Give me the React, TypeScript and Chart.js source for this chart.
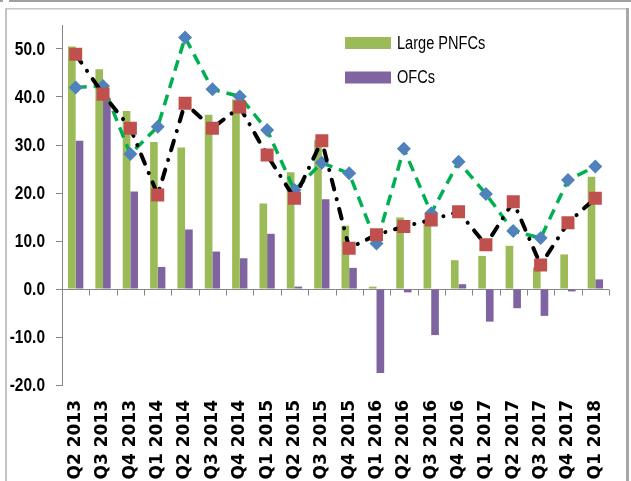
import React, { useEffect, useRef } from 'react';
import { Chart, registerables } from 'chart.js';

Chart.register(...registerables);

const categories = [
  'Q2 2013', 'Q3 2013', 'Q4 2013', 'Q1 2014', 'Q2 2014', 'Q3 2014', 'Q4 2014',
  'Q1 2015', 'Q2 2015', 'Q3 2015', 'Q4 2015', 'Q1 2016', 'Q2 2016', 'Q3 2016',
  'Q4 2016', 'Q1 2017', 'Q2 2017', 'Q3 2017', 'Q4 2017', 'Q1 2018',
];

const largePNFCs = [50.5, 45.8, 37.1, 30.6, 29.5, 36.3, 39.5, 17.8, 24.3, 31.0, 13.2, 0.5, 14.9, 14.5, 6.0, 6.9, 9.0, 4.5, 7.2, 23.4];
const ofcs = [30.9, 39.8, 20.3, 4.6, 12.4, 7.8, 6.4, 11.5, 0.5, 18.7, 4.4, -17.5, -0.7, -9.6, 1.0, -6.8, -4.0, -5.6, -0.5, 2.0];
const diamondSeries = [42.0, 42.3, 28.1, 33.8, 52.4, 41.6, 40.1, 33.1, 20.6, 26.3, 24.1, 9.5, 29.2, 15.8, 26.5, 19.8, 12.1, 10.6, 22.7, 25.5];
const squareSeries = [48.9, 40.6, 33.5, 19.6, 38.7, 33.5, 37.9, 27.9, 18.9, 30.9, 8.5, 11.3, 13.0, 14.4, 16.1, 9.2, 18.2, 5.0, 13.8, 18.9];

const yMin = -20;
const yMax = 55;
const yStep = 10;

const SANS = '"Liberation Sans", Arial, sans-serif';

const framePlugin = {
  id: 'frame',
  beforeDraw(chart: any) {
    const { ctx, width, height } = chart;
    ctx.save();
    ctx.fillStyle = '#ffffff';
    ctx.fillRect(0, 0, width, height);
    ctx.restore();
  },
  afterDraw(chart: any) {
    const { ctx, width, height } = chart;
    ctx.save();
    ctx.fillStyle = '#a0a0a0';
    ctx.fillRect(9, 0, width - 9, 2);
    ctx.fillRect(0, 0, 3, 2);
    ctx.fillStyle = '#c4c4c4';
    ctx.fillRect(5, 8, 2, height - 8);
    ctx.fillRect(5, 8, width - 10, 1.5);
    ctx.fillStyle = '#a8a8a8';
    ctx.fillRect(626, 8, 3, height - 8);
    ctx.restore();
  },
};

const zeroAxisPlugin = {
  id: 'zeroAxis',
  beforeDatasetsDraw(chart: any) {
    const { ctx } = chart;
    const xs = chart.scales.x;
    const ys = chart.scales.y;
    const y0 = Math.round(ys.getPixelForValue(0)) + 0.5;
    ctx.save();
    ctx.strokeStyle = '#868686';
    ctx.lineWidth = 1;
    ctx.beginPath();
    ctx.moveTo(xs.left, y0);
    ctx.lineTo(xs.right, y0);
    for (let i = 0; i <= categories.length; i++) {
      const px = Math.round(xs.getPixelForValue(i - 0.5)) + 0.5;
      ctx.moveTo(px, y0);
      ctx.lineTo(px, y0 + 6);
    }
    ctx.stroke();
    ctx.restore();
  },
};

// Narrow (condensed) y tick labels, taken from the y scale's own ticks
const yLabelsPlugin = {
  id: 'yLabels',
  afterDraw(chart: any) {
    const { ctx } = chart;
    const ys = chart.scales.y;
    ctx.save();
    ctx.font = `bold 18px ${SANS}`;
    ctx.fillStyle = '#000000';
    ctx.textAlign = 'right';
    ctx.textBaseline = 'middle';
    ys.ticks.forEach((t: any) => {
      const py = ys.getPixelForValue(t.value);
      ctx.save();
      ctx.translate(45, py + 1);
      ctx.scale(0.86, 1);
      ctx.fillText(Number(t.value).toFixed(1), 0, 0);
      ctx.restore();
    });
    ctx.restore();
  },
};

const legendPlugin = {
  id: 'customLegend',
  afterDraw(chart: any) {
    const { ctx } = chart;
    const bars = chart.data.datasets.filter((d: any) => !d.type || d.type === 'bar');
    const rowY = [43, 77.5];
    ctx.save();
    ctx.font = `18px ${SANS}`;
    ctx.textBaseline = 'middle';
    ctx.textAlign = 'left';
    bars.forEach((d: any, i: number) => {
      const y = rowY[i];
      ctx.fillStyle = d.backgroundColor;
      ctx.fillRect(345, y - 6, 46, 12);
      ctx.fillStyle = '#000000';
      ctx.save();
      ctx.translate(397, y + 1);
      ctx.scale(0.81, 1);
      ctx.fillText(d.label, 0, 0);
      ctx.restore();
    });
    ctx.restore();
  },
};

export default function App() {
  const ref = useRef<HTMLCanvasElement | null>(null);

  useEffect(() => {
    document.body.style.margin = '0';
    const canvas = ref.current;
    if (!canvas) return;
    const chart = new Chart(canvas, {
      type: 'bar',
      data: {
        labels: categories,
        datasets: [
          {
            label: 'Large PNFCs',
            data: largePNFCs,
            backgroundColor: '#9BBB59',
            categoryPercentage: 0.56,
            barPercentage: 1.0,
            order: 3,
          },
          {
            label: 'OFCs',
            data: ofcs,
            backgroundColor: '#8064A2',
            categoryPercentage: 0.56,
            barPercentage: 1.0,
            order: 3,
          },
          {
            type: 'line',
            label: 'Series 3',
            data: diamondSeries,
            borderColor: '#00B050',
            borderWidth: 3.5,
            borderDash: [11, 7],
            fill: false,
            tension: 0,
            pointStyle: 'rectRot',
            pointRadius: 7,
            pointBackgroundColor: '#4F81BD',
            pointBorderColor: '#4F81BD',
            pointBorderWidth: 0,
            order: 2,
          },
          {
            type: 'line',
            label: 'Series 4',
            data: squareSeries,
            borderColor: '#000000',
            borderWidth: 4,
            borderDash: [10, 10, 0.1, 10],
            borderCapStyle: 'round',
            fill: false,
            tension: 0,
            pointStyle: 'rect',
            pointRadius: 9.2,
            pointBackgroundColor: '#C0504D',
            pointBorderColor: '#C0504D',
            pointBorderWidth: 0,
            order: 1,
          },
        ] as any,
      },
      options: {
        responsive: false,
        animation: false,
        devicePixelRatio: 1,
        layout: { padding: { top: 25, right: 11, left: 0, bottom: 0 } },
        plugins: {
          legend: { display: false },
          tooltip: { enabled: false },
        },
        scales: {
          x: {
            offset: true,
            grid: { display: false, drawTicks: false },
            border: { display: false },
            ticks: {
              autoSkip: false,
              maxRotation: 90,
              minRotation: 90,
              padding: 15,
              color: '#000000',
              font: { family: '"DejaVu Sans", sans-serif', weight: 'bold', size: 17 },
            },
            afterFit(scale: any) {
              scale.height = 96;
            },
          },
          y: {
            min: yMin,
            max: yMax,
            ticks: {
              display: false,
              stepSize: yStep,
              includeBounds: false,
            },
            grid: { drawOnChartArea: false, drawTicks: true, tickLength: 6, color: '#868686' },
            border: { display: true, color: '#868686', width: 1 },
            afterFit(scale: any) {
              scale.width = 62;
            },
          },
        },
      } as any,
      plugins: [framePlugin, zeroAxisPlugin, yLabelsPlugin, legendPlugin],
    });
    return () => chart.destroy();
  }, []);

  return (
    <div style={{ width: 631, height: 481 }}>
      <canvas ref={ref} width={631} height={481} style={{ display: 'block', width: 631, height: 481 }} />
    </div>
  );
}
